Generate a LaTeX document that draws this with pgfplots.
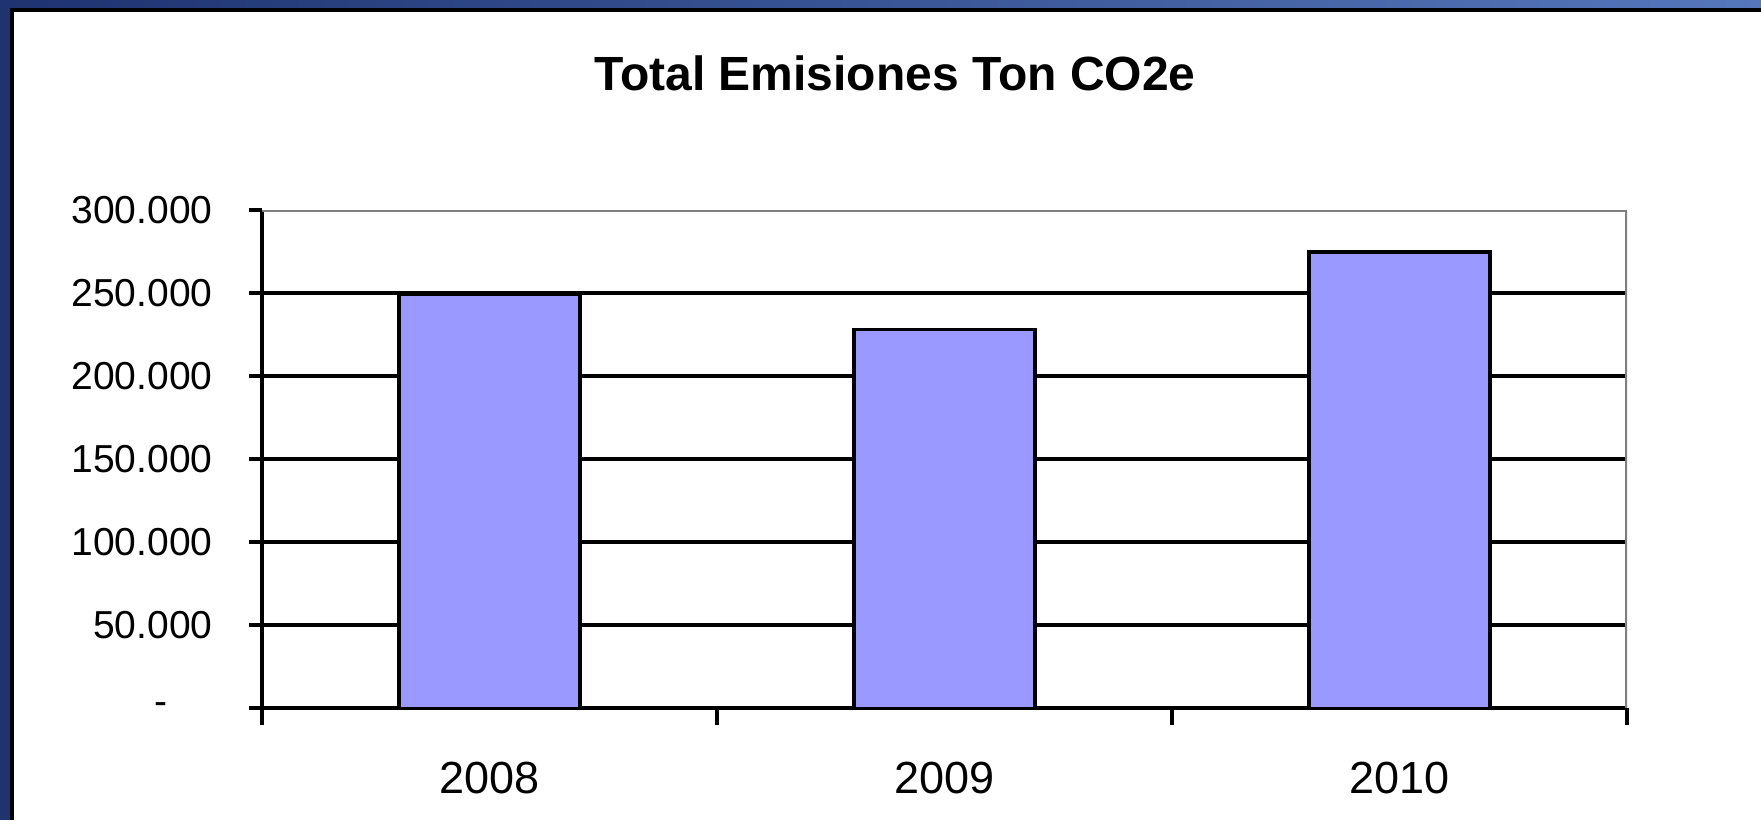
\documentclass[border=0pt]{standalone}
\usepackage{pgfplots}
\pgfplotsset{compat=1.18}
\usepackage{fontspec}
\setmainfont{Liberation Sans}
\definecolor{barfill}{HTML}{9999FF}
\definecolor{navy}{HTML}{1E3370}
\definecolor{lightnavy}{HTML}{5577BB}
\definecolor{bordergray}{HTML}{808080}
\begin{document}
\begin{tikzpicture}
\useasboundingbox (0,0) rectangle (880.5pt,410pt);
\fill[white] (0,0) rectangle (880.5pt,410pt);
\shade[left color=navy, right color=lightnavy] (0,406pt) rectangle (880.5pt,410pt);
\fill[navy] (0,0) rectangle (5pt,410pt);
\fill[black] (5pt,404pt) rectangle (880.5pt,406pt);
\fill[black] (5pt,0) rectangle (7pt,406pt);
\node[font=\bfseries\fontsize{24}{28}\selectfont, anchor=base, inner sep=0pt] at (447.5pt,364.5pt) {Total Emisiones Ton CO2e};
\begin{axis}[
  at={(131pt,55.85pt)}, anchor=south west,
  scale only axis, width=682.5pt, height=249.15pt,
  xmin=0.5, xmax=3.5, ymin=0, ymax=300000,
  scaled y ticks=false,
  axis lines*=left,
  axis line style={black, line width=2pt},
  tick align=outside,
  major tick length=6.5pt,
  minor tick length=8.5pt,
  tick style={black, line width=2pt},
  ytick={0,50000,100000,150000,200000,250000},
  yticklabels={-\hspace*{22.5pt},50.000,100.000,150.000,200.000,250.000},
  extra y ticks={300000},
  extra y tick labels={300.000},
  extra y tick style={grid=none},
  yticklabel style={anchor=east, inner sep=0pt, font=\fontsize{19.5}{20}\selectfont, xshift=-18pt},
  xtick={1,2,3},
  xticklabels={2008,2009,2010},
  minor xtick={0.5,1.5,2.5,3.5},
  major x tick style={draw=none},
  xticklabel style={anchor=base, inner sep=0pt, font=\fontsize{22.5}{24}\selectfont, yshift=-36pt},
  ymajorgrids,
  major grid style={black, line width=2pt},
]
\addplot[ybar, bar width=0.397, fill=barfill, draw=black, line width=1.8pt] coordinates {(1,249500) (2,228000) (3,274700)};
\draw[bordergray, line width=2pt] (rel axis cs:0,1) -- (rel axis cs:1,1) -- (rel axis cs:1,0);
\end{axis}
\end{tikzpicture}
\end{document}
